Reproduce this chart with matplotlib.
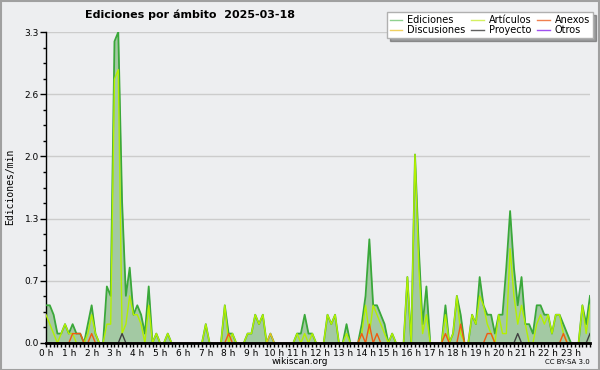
import matplotlib
matplotlib.use("Agg")
import matplotlib.pyplot as plt
from matplotlib.lines import Line2D
from matplotlib.patches import Rectangle
import numpy as np

# edits per minute, one value per 10-minute slot (6 per hour, 24 hours)
ediciones = [
    0.4, 0.4, 0.3, 0.1, 0.1, 0.2,   # 0 h
    0.1, 0.2, 0.1, 0.1, 0.0, 0.2,   # 1 h
    0.4, 0.1, 0.0, 0.0, 0.6, 0.5,   # 2 h
    3.2, 3.3, 1.5, 0.5, 0.8, 0.3,   # 3 h
    0.4, 0.3, 0.1, 0.6, 0.0, 0.1,   # 4 h
    0.0, 0.0, 0.1, 0.0, 0.0, 0.0,   # 5 h
    0.0, 0.0, 0.0, 0.0, 0.0, 0.0,   # 6 h
    0.2, 0.0, 0.0, 0.0, 0.0, 0.4,   # 7 h
    0.1, 0.1, 0.0, 0.0, 0.0, 0.1,   # 8 h
    0.1, 0.3, 0.2, 0.3, 0.0, 0.1,   # 9 h
    0.0, 0.0, 0.0, 0.0, 0.0, 0.0,   # 10 h
    0.1, 0.1, 0.3, 0.1, 0.1, 0.0,   # 11 h
    0.0, 0.0, 0.3, 0.2, 0.3, 0.0,   # 12 h
    0.0, 0.2, 0.0, 0.0, 0.0, 0.2,   # 13 h
    0.5, 1.1, 0.4, 0.4, 0.3, 0.2,   # 14 h
    0.0, 0.1, 0.0, 0.0, 0.0, 0.7,   # 15 h
    0.0, 2.0, 1.0, 0.2, 0.6, 0.0,   # 16 h
    0.0, 0.0, 0.0, 0.4, 0.0, 0.1,   # 17 h
    0.5, 0.3, 0.0, 0.0, 0.3, 0.2,   # 18 h
    0.7, 0.4, 0.3, 0.3, 0.1, 0.3,   # 19 h
    0.3, 0.8, 1.4, 0.8, 0.4, 0.7,   # 20 h
    0.2, 0.2, 0.1, 0.4, 0.4, 0.3,   # 21 h
    0.3, 0.1, 0.3, 0.3, 0.2, 0.1,   # 22 h
    0.0, 0.0, 0.0, 0.4, 0.2, 0.5,   # 23 h
]
articulos = [
    0.3, 0.2, 0.1, 0.0, 0.1, 0.2,
    0.1, 0.1, 0.0, 0.0, 0.0, 0.1,
    0.3, 0.1, 0.0, 0.0, 0.2, 0.2,
    2.8, 2.9, 0.1, 0.2, 0.5, 0.3,
    0.3, 0.2, 0.0, 0.4, 0.0, 0.1,
    0.0, 0.0, 0.1, 0.0, 0.0, 0.0,
    0.0, 0.0, 0.0, 0.0, 0.0, 0.0,
    0.2, 0.0, 0.0, 0.0, 0.0, 0.4,
    0.0, 0.1, 0.0, 0.0, 0.0, 0.1,
    0.1, 0.3, 0.2, 0.3, 0.0, 0.0,
    0.0, 0.0, 0.0, 0.0, 0.0, 0.0,
    0.1, 0.0, 0.1, 0.0, 0.1, 0.0,
    0.0, 0.0, 0.3, 0.2, 0.3, 0.0,
    0.0, 0.1, 0.0, 0.0, 0.0, 0.1,
    0.4, 0.1, 0.4, 0.3, 0.2, 0.1,
    0.0, 0.1, 0.0, 0.0, 0.0, 0.7,
    0.0, 2.0, 0.8, 0.1, 0.3, 0.0,
    0.0, 0.0, 0.0, 0.3, 0.0, 0.1,
    0.5, 0.1, 0.0, 0.0, 0.3, 0.2,
    0.5, 0.4, 0.2, 0.1, 0.0, 0.3,
    0.1, 0.1, 1.0, 0.5, 0.2, 0.4,
    0.2, 0.0, 0.0, 0.2, 0.3, 0.2,
    0.3, 0.1, 0.3, 0.3, 0.1, 0.0,
    0.0, 0.0, 0.0, 0.4, 0.1, 0.4,
]
# sparse series: {slot index: value}
anexos_pts = {7: 0.1, 8: 0.1, 9: 0.1, 12: 0.1, 48: 0.1, 83: 0.1, 85: 0.2, 87: 0.1,
              105: 0.1, 109: 0.2, 116: 0.1, 117: 0.1, 136: 0.1}
discusiones_pts = {59: 0.1}
proyecto_pts = {20: 0.1, 124: 0.1, 143: 0.1}
otros_pts = {}

n = len(ediciones)
def expand(pts):
    arr = np.zeros(n)
    for k, v in pts.items():
        arr[k] = v
    return arr

anexos = expand(anexos_pts)
discusiones = expand(discusiones_pts)
proyecto = expand(proyecto_pts)
otros = expand(otros_pts)

hours = np.arange(n) / 6.0
hour_labels = [f"{h} h" for h in range(24)]
ymax = 3.3
yticks = np.linspace(0, ymax, 6)
ytick_labels = [f"{v:.1f}" for v in yticks]

bg = '#edeef0'
fig = plt.figure(figsize=(6, 3.7), dpi=100, facecolor=bg)
ax = fig.add_axes([46/600, 27/370, 544/600, 311/370], facecolor=bg)

ax.fill_between(hours, ediciones, color='#a3c9a3', lw=0, zorder=2)
ax.plot(hours, ediciones, color='#3aa83a', lw=1.3, zorder=3)
ax.plot(hours, articulos, color='#b4f000', lw=1.0, zorder=4)
ax.plot(hours, discusiones, color='#e8c020', lw=1.0, zorder=5)
ax.plot(hours, anexos, color='#f05a10', lw=1.0, zorder=5)
ax.plot(hours, proyecto, color='#404040', lw=1.0, zorder=5)
ax.plot(hours, otros, color='#a040f0', lw=1.0, zorder=5)

ax.set_xlim(0, hours[-1])
ax.set_ylim(0, ymax)
ax.set_xticks(range(24))
ax.set_xticklabels(hour_labels, fontsize=6.5)
ax.set_xticks(hours, minor=True)
ax.set_yticks(yticks)
ax.set_yticklabels(ytick_labels, fontsize=6.5)
ax.set_yticks(np.arange(0, ymax + 0.01, ymax / 20), minor=True)
ax.tick_params(axis='x', which='both', direction='out', length=3, width=1, pad=1)
ax.tick_params(axis='y', which='major', direction='out', length=4, width=1, pad=1)
ax.tick_params(axis='y', which='minor', direction='out', length=2, width=1)
ax.grid(axis='y', which='major', color='#cccccc', lw=1, zorder=1)
ax.set_axisbelow(True)
for s in ['top', 'right']:
    ax.spines[s].set_visible(False)
ax.spines['left'].set_linewidth(1)
ax.spines['bottom'].set_linewidth(2)
ax.spines['bottom'].set_zorder(10)

fig.text(85/600, 1 - 15/370, "Ediciones por ámbito  2025-03-18", fontsize=8,
         fontweight='bold', va='center', ha='left')
fig.text(10/600, 1 - 187/370, "Ediciones/min", rotation=90, fontsize=7,
         family='DejaVu Sans Mono', va='center', ha='center')
fig.text(0.5, 1 - 361/370, "wikiscan.org", fontsize=6.5, ha='center', va='center')
fig.text(590/600, 1 - 362/370, "CC BY-SA 3.0", fontsize=5, ha='right', va='center')

handles = [
    Line2D([], [], color='#8fd18f', lw=1, label='Ediciones'),
    Line2D([], [], color='#f0d060', lw=1, label='Discusiones'),
    Line2D([], [], color='#d4f060', lw=1, label='Artículos'),
    Line2D([], [], color='#606060', lw=1, label='Proyecto'),
    Line2D([], [], color='#f08050', lw=1, label='Anexos'),
    Line2D([], [], color='#a050f0', lw=1, label='Otros'),
]
leg = fig.legend(handles=handles, ncol=3, loc='upper right',
                 bbox_to_anchor=(593/600, 1 - 12/370), fontsize=7,
                 frameon=True, fancybox=False, shadow=True, framealpha=1,
                 edgecolor='#b0b0b0', handlelength=1.3, handletextpad=0.5,
                 columnspacing=0.6, labelspacing=0.05, borderpad=0.3,
                 borderaxespad=0)

fig.patches.append(Rectangle((0.001, 0.001), 0.997, 0.996, transform=fig.transFigure,
                             fill=False, edgecolor='#a0a0a0', lw=1.5))

fig.savefig('out.png', dpi=100, facecolor=bg)
